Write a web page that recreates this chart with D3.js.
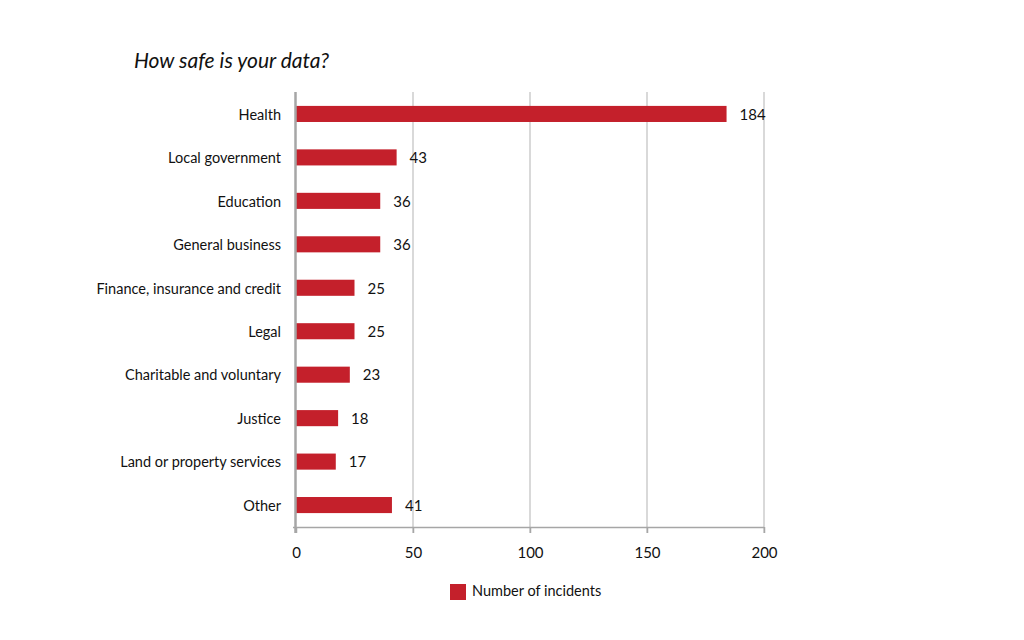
<!DOCTYPE html>
<html><head><meta charset="utf-8">
<script src="https://cdn.jsdelivr.net/npm/d3@7"></script>
<style>body{margin:0;background:#fff;}svg{display:block;}</style>
</head><body>
<svg id="c" width="1024" height="640"></svg>
<script>
const categories = ["Health","Local government","Education","General business","Finance, insurance and credit","Legal","Charitable and voluntary","Justice","Land or property services","Other"];
const incidents = [184,43,36,36,25,25,23,18,17,41];
const xTicks = [0,50,100,150,200];
const title = "How safe is your data?";
const seriesName = "Number of incidents";

const svg = d3.select("#c");
const font = "Lato, 'Open Sans', sans-serif";
const m = {left:296, right:764, top:92, bottom:527};
const x = d3.scaleLinear().domain([0,200]).range([m.left, m.right]);
const y = d3.scaleBand().domain(categories).range([m.top, m.bottom]).paddingInner(0.63).paddingOuter(0.32);
const red = "#c4202b";

svg.append("text").attr("x",134).attr("y",68).attr("font-family",font).attr("font-style","italic")
  .attr("font-size",21).attr("fill","#111").text(title);

// gridlines
svg.append("g").selectAll("line").data(xTicks.slice(1)).join("line")
  .attr("x1",d=>x(d)).attr("x2",d=>x(d)).attr("y1",m.top).attr("y2",m.bottom+6)
  .attr("stroke","#b3b3b3").attr("stroke-width",1);

// bars
svg.append("g").selectAll("rect").data(categories).join("rect")
  .attr("x",x(0)).attr("y",d=>y(d)).attr("height",y.bandwidth())
  .attr("width",(d,i)=>x(incidents[i])-x(0)).attr("fill",red);

// value labels
svg.append("g").selectAll("text").data(categories).join("text")
  .attr("x",(d,i)=>x(incidents[i])+13).attr("y",d=>y(d)+y.bandwidth()/2+2)
  .attr("dominant-baseline","middle").attr("font-family",font).attr("font-size",15).attr("fill","#111")
  .text((d,i)=>incidents[i]);

// bottom axis
const xa = svg.append("g").attr("transform",`translate(0,${m.bottom})`)
  .call(d3.axisBottom(x).tickValues(xTicks).tickSize(6).tickPadding(14));
xa.select(".domain").attr("stroke","#a6a6a6").attr("stroke-width",1.5).attr("d",`M${m.left-3},0.5H${m.right}`);
xa.selectAll(".tick line").attr("stroke","#a6a6a6").attr("stroke-width",1.5);
xa.selectAll(".tick text").attr("font-family",font).attr("font-size",15).attr("fill","#111");

// left axis
const ya = svg.append("g").attr("transform",`translate(${m.left},0)`)
  .call(d3.axisLeft(y).tickSize(0).tickPadding(15));
ya.select(".domain").attr("stroke","#a6a6a6").attr("stroke-width",2.5).attr("d",`M-0.5,${m.top}V${m.bottom+6}`);
ya.selectAll(".tick text").attr("font-family",font).attr("font-size",14.5).attr("fill","#111").attr("dy","0.4em");

// legend
svg.append("rect").attr("x",450).attr("y",584).attr("width",16).attr("height",16).attr("fill",red);
svg.append("text").attr("x",472).attr("y",592).attr("dominant-baseline","middle")
  .attr("font-family",font).attr("font-size",14.5).attr("fill","#111").text(seriesName);
</script>
</body></html>
